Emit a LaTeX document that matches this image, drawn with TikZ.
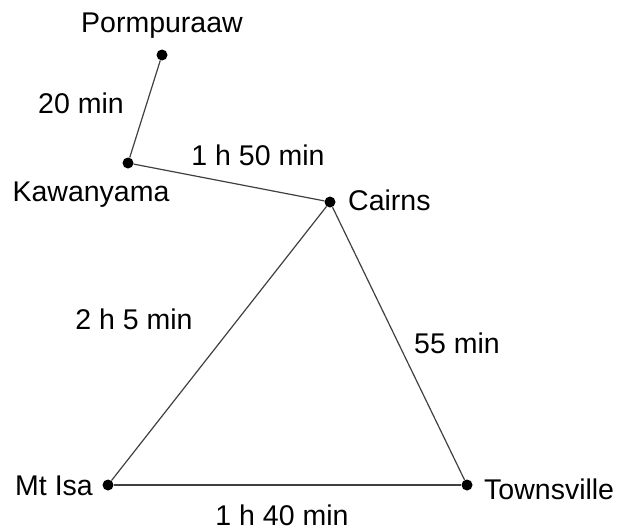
\documentclass[tikz,border=0pt]{standalone}
\usepackage{fontspec}
\setmainfont{Liberation Sans}
\usetikzlibrary{positioning}

\begin{document}
\begin{tikzpicture}[
    x=1pt, y=-1pt,
    town/.style={circle, fill, inner sep=0pt, minimum size=11pt},
    place/.style={font=\fontsize{28.5}{32}\selectfont, inner sep=0pt},
    road/.style={draw=black!75, line width=1.2pt}
  ]
    \useasboundingbox (0,0) rectangle (620,530);

    \node[town] (pormpuraaw) at (162,55) {};
    \node[town] (kawanyama) at (128,163) {};
    \node[town] (cairns) at (330,202) {};
    \node[town] (mtisa) at (108,485) {};
    \node[town] (townsville) at (467,485) {};

    \node[place] (pormpuraawname) at (162,26) {Pormpuraaw};
    \node[place] (kawanyamaname) at (91,195) {Kawanyama};
    \node[place, anchor=west] (cairnsname) at (348,200) {Cairns};
    \node[place, anchor=east] (mtisaname) at (93,486) {Mt Isa};
    \node[place, anchor=west] (townsvillename) at (484,489) {Townsville};

    \draw[road] (pormpuraaw) -- (kawanyama);
    \draw[road] (kawanyama) -- (cairns);
    \draw[road] (cairns) -- (mtisa);
    \draw[road] (cairns) -- (townsville);
    \draw[road] (mtisa) -- (townsville);

    \node[place] (t1) at (81,103) {20 min};
    \node[place] (t2) at (258,155) {1 h 50 min};
    \node[place] (t3) at (134,319) {2 h 5 min};
    \node[place] (t4) at (457,343) {55 min};
    \node[place] (t5) at (282,515) {1 h 40 min};
  \end{tikzpicture}
\end{document}
